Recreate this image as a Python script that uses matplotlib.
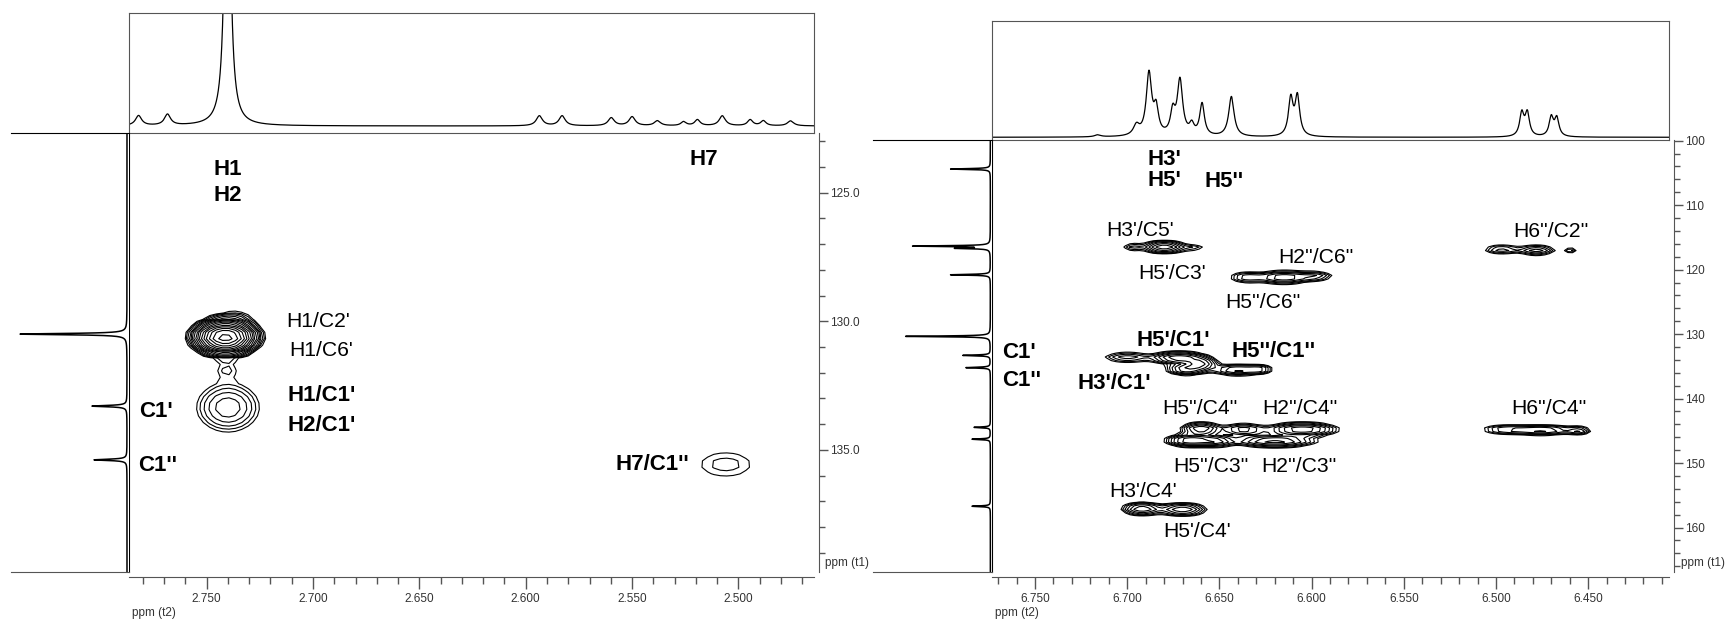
import numpy as np
import matplotlib
matplotlib.use('Agg')
import matplotlib.pyplot as plt
from matplotlib.ticker import MultipleLocator, FormatStrFormatter

W, H = 1728, 620
LABEL_FONT = ['Liberation Sans', 'DejaVu Sans']
TICK_FONT = ['Liberation Sans', 'DejaVu Sans']
GREY = '#555555'

# ---- left panel data (1H 2.46-2.79 ppm / 13C 122-140 ppm) ----
left_h_pos = [2.782, 2.7684, 2.7402, 2.5936, 2.5829, 2.5598, 2.5500, 2.5381,
              2.5258, 2.5193, 2.5076, 2.4945, 2.4883, 2.4755]
left_h_int = [10, 11, 400, 10, 10, 8, 9, 5, 4, 6, 10, 6, 5, 5]
left_h_fwhm = [0.0035, 0.0035, 0.0027, 0.0035, 0.0035, 0.0035, 0.0035, 0.0035,
               0.003, 0.003, 0.0035, 0.003, 0.003, 0.0035]
left_c_pos = [130.5, 133.3, 135.39]
left_c_int = [107, 35, 33]

# cross peaks: (1H ppm, 13C ppm, 1H width, 13C width, intensity)
left_xpeaks = [
    (2.7412, 130.62, 0.0065, 0.29, 60.0),   # H1/C2', H1/C6'
    (2.7365, 129.85, 0.0060, 0.22, 1.45),
    (2.7405, 131.85, 0.0045, 0.28, 1.35),
    (2.7400, 133.35, 0.0093, 0.60, 3.5),    # H1/C1', H2/C1'
    (2.5060, 135.57, 0.0128, 0.50, 1.5),    # H7/C1''
]
left_labels = [
    ("H1", 2.7470, 124.1, True), ("H2", 2.7470, 125.1, True),
    ("H7", 2.5230, 123.7, True),
    ("H1/C2'", 2.7124, 130.0, False), ("H1/C6'", 2.7113, 131.15, False),
    ("H1/C1'", 2.7118, 132.9, True), ("H2/C1'", 2.7118, 134.05, True),
    ("C1'", 2.7819, 133.5, True), ("C1''", 2.7824, 135.6, True),
    ("H7/C1''", 2.5577, 135.57, True),
]

# ---- right panel data (1H 6.41-6.77 ppm / 13C 100-167 ppm) ----
right_h_pos = [6.716, 6.695, 6.6882, 6.6843, 6.6753, 6.6714, 6.665, 6.6594,
               6.6435, 6.6113, 6.6077, 6.4860, 6.4830, 6.4700, 6.4670]
right_h_int = [2, 10, 62, 25, 22, 55, 10, 32, 40, 37, 39, 23, 23, 19, 18]
right_h_fwhm = [0.004, 0.004, 0.0035, 0.003, 0.003, 0.0035, 0.003, 0.003,
                0.0035, 0.003, 0.003, 0.0028, 0.0028, 0.0028, 0.0028]
right_c_pos = [104.4, 116.35, 116.7, 120.8, 130.35, 133.3, 135.2, 144.46, 146.3, 156.7]
right_c_int = [39, 75, 32, 39, 83, 27, 24, 16, 18, 18]

right_xpeaks = [
    (6.697, 116.5, 0.004, 0.45, 2.0),   # H3'/C5', H5'/C3'
    (6.680, 116.5, 0.006, 0.50, 8.0),
    (6.664, 116.6, 0.005, 0.40, 1.6),
    (6.635, 121.2, 0.006, 0.55, 3.0),   # H2''/C6'', H5''/C6''
    (6.615, 121.2, 0.008, 0.55, 6.0),
    (6.598, 121.0, 0.006, 0.45, 3.0),
    (6.497, 116.9, 0.006, 0.45, 3.0),   # H6''/C2''
    (6.478, 117.0, 0.006, 0.45, 4.0),
    (6.4595, 117.0, 0.0025, 0.35, 2.0),
    (6.700, 133.6, 0.008, 0.50, 3.0),   # H5'/C1'
    (6.672, 133.7, 0.008, 0.50, 8.0),
    (6.660, 134.6, 0.005, 0.55, 6.0),
    (6.668, 135.45, 0.006, 0.50, 6.0),  # H5''/C1''
    (6.640, 135.55, 0.008, 0.50, 5.0),
    (6.628, 135.45, 0.004, 0.40, 3.0),
    (6.660, 144.7, 0.006, 0.55, 6.0),   # H5''/C4'', H2''/C4''
    (6.637, 144.8, 0.007, 0.55, 4.0),
    (6.605, 144.8, 0.010, 0.55, 8.0),
    (6.666, 146.5, 0.007, 0.50, 8.0),   # H5''/C3'', H2''/C3''
    (6.652, 146.6, 0.006, 0.50, 5.0),
    (6.620, 146.6, 0.012, 0.50, 7.0),
    (6.495, 144.8, 0.008, 0.45, 3.0),   # H6''/C4''
    (6.475, 144.9, 0.010, 0.45, 5.0),
    (6.455, 145.0, 0.004, 0.40, 3.0),
    (6.692, 157.1, 0.006, 0.55, 6.0),   # H3'/C4', H5'/C4'
    (6.670, 157.2, 0.007, 0.55, 6.0),
]
right_labels = [
    ("H3'", 6.6890, 103.0, True), ("H5'", 6.6890, 106.2, True),
    ("H5''", 6.6580, 106.4, True),
    ("H3'/C5'", 6.7115, 114.0, False), ("H5'/C3'", 6.6940, 120.6, False),
    ("H2''/C6''", 6.6180, 118.15, False), ("H5''/C6''", 6.6470, 125.05, False),
    ("H6''/C2''", 6.4904, 114.1, False),
    ("H5'/C1'", 6.6947, 131.05, True), ("H5''/C1''", 6.6433, 132.7, True),
    ("C1'", 6.7680, 132.9, True), ("C1''", 6.7680, 137.25, True),
    ("H3'/C1'", 6.7268, 137.6, True),
    ("H5''/C4''", 6.6810, 141.5, False), ("H2''/C4''", 6.6267, 141.6, False),
    ("H6''/C4''", 6.4918, 141.5, False),
    ("H5''/C3''", 6.6750, 150.5, False), ("H2''/C3''", 6.6273, 150.5, False),
    ("H3'/C4'", 6.7100, 154.35, False), ("H5'/C4'", 6.6807, 160.6, False),
]


def box(x0, y0, x1, y1):
    return [x0 / W, 1 - y1 / H, (x1 - x0) / W, (y1 - y0) / H]


def lorentz(x, pos, inten, fwhm):
    y = np.zeros_like(x)
    for p, a, w in zip(pos, inten, fwhm):
        y += a / (1 + ((x - p) / (w / 2)) ** 2)
    return y


def field(hh, cc, peaks):
    z = np.zeros_like(hh)
    for h0, c0, sh, sc, a in peaks:
        z += a * np.exp(-0.5 * (((hh - h0) / sh) ** 2 + ((cc - c0) / sc) ** 2))
    return z


def panel(frame, hlim, clim, h_pos, h_int, h_fwhm, c_pos, c_int, c_fwhm,
          top_ylim, side_xlim, xpeaks, hstep, cstep, levels, labels,
          xmajor, ymajor, yminor, yfmt, t1_x, t2_x):
    (x_side, x0, x1, y_top, y0, y1) = frame
    ax = fig.add_axes(box(x0, y0, x1, y1))
    top = fig.add_axes(box(x0, y_top, x1, y0))
    side = fig.add_axes(box(x_side, y0, x0, y1))

    # 2D contour map
    hg = np.arange(min(hlim) - 0.01, max(hlim) + 0.01, hstep)
    cg = np.arange(min(clim) - 1, max(clim) + 1, cstep)
    hh, cc = np.meshgrid(hg, cg)
    ax.contour(hh, cc, field(hh, cc, xpeaks), levels=levels,
               colors='black', linewidths=0.8)
    ax.set_xlim(hlim)
    ax.set_ylim(clim)
    for txt, hx, cy, bold in labels:
        ax.text(hx, cy, txt, ha='left', va='center', family=LABEL_FONT,
                fontsize=16 if bold else 15.2,
                fontweight='bold' if bold else 'normal')

    ax.spines['top'].set_visible(False)
    ax.spines['left'].set_color('black')
    for s in ('bottom', 'right'):
        ax.spines[s].set_position(('outward', 3.6))
        ax.spines[s].set_color(GREY)
    ax.yaxis.tick_right()
    ax.xaxis.set_major_locator(MultipleLocator(xmajor))
    ax.xaxis.set_minor_locator(MultipleLocator(0.01))
    ax.xaxis.set_major_formatter(FormatStrFormatter('%.3f'))
    ax.yaxis.set_major_locator(MultipleLocator(ymajor))
    ax.yaxis.set_minor_locator(MultipleLocator(yminor))
    ax.yaxis.set_major_formatter(FormatStrFormatter(yfmt))
    ax.tick_params(axis='x', which='major', length=8.4, width=1, color=GREY,
                   labelcolor='#333333', labelsize=8.5, pad=3)
    ax.tick_params(axis='x', which='minor', length=4.8, width=1, color=GREY)
    ax.tick_params(axis='y', which='major', length=6.5, width=1, color=GREY,
                   labelcolor='#333333', labelsize=8.5, pad=1.5)
    ax.tick_params(axis='y', which='minor', length=4, width=1, color=GREY)
    for lab in ax.get_xticklabels() + ax.get_yticklabels():
        lab.set_family(TICK_FONT)

    # 1H projection on top
    x = np.linspace(min(hlim), max(hlim), 6000)
    top.plot(x, lorentz(x, h_pos, h_int, h_fwhm), color='black', lw=0.9)
    top.set_xlim(hlim)
    top.set_ylim(top_ylim)
    top.set_xticks([])
    top.set_yticks([])
    for s in top.spines.values():
        s.set_color(GREY)

    # 13C projection on the left
    y = np.linspace(min(clim), max(clim), 8000)
    side.plot(lorentz(y, c_pos, c_int, c_fwhm), y, color='black', lw=1.1)
    side.set_ylim(clim)
    side.set_xlim(side_xlim)
    side.set_xticks([])
    side.set_yticks([])
    side.spines['left'].set_visible(False)
    side.spines['right'].set_visible(False)
    side.spines['top'].set_color('black')
    side.spines['bottom'].set_color(GREY)

    fig.text(t2_x / W, 1 - 613 / H, 'ppm (t2)', ha='left', va='center',
             fontsize=8.5, color='#333333', family=TICK_FONT)
    fig.text(t1_x / W, 1 - 562.7 / H, 'ppm (t1)', ha='left', va='center',
             fontsize=8.5, color='#333333', family=TICK_FONT)


fig = plt.figure(figsize=(W / 100, H / 100), dpi=100)

panel((11, 129, 814, 12.5, 133, 571.7), (2.7865, 2.4645), (139.74, 122.68),
      left_h_pos, left_h_int, left_h_fwhm,
      left_c_pos, left_c_int, [0.06, 0.06, 0.06],
      (-7, 113.5), (116, -2), left_xpeaks, 0.003, 0.25,
      1.3 ** np.arange(0, 16), left_labels, 0.05, 5, 1, '%.1f', 825, 132)

panel((873, 991.7, 1669.3, 20.7, 140, 571.7), (6.7735, 6.406), (166.85, 99.9),
      right_h_pos, right_h_int, right_h_fwhm,
      right_c_pos, right_c_int, [0.15] * len(right_c_pos),
      (-2.7, 116.6), (115, -1.3), right_xpeaks, 0.0025, 0.55,
      1.35 ** np.arange(0, 12), right_labels, 0.05, 10, 2, '%d', 1681, 995)

fig.savefig('out.png', dpi=100)
